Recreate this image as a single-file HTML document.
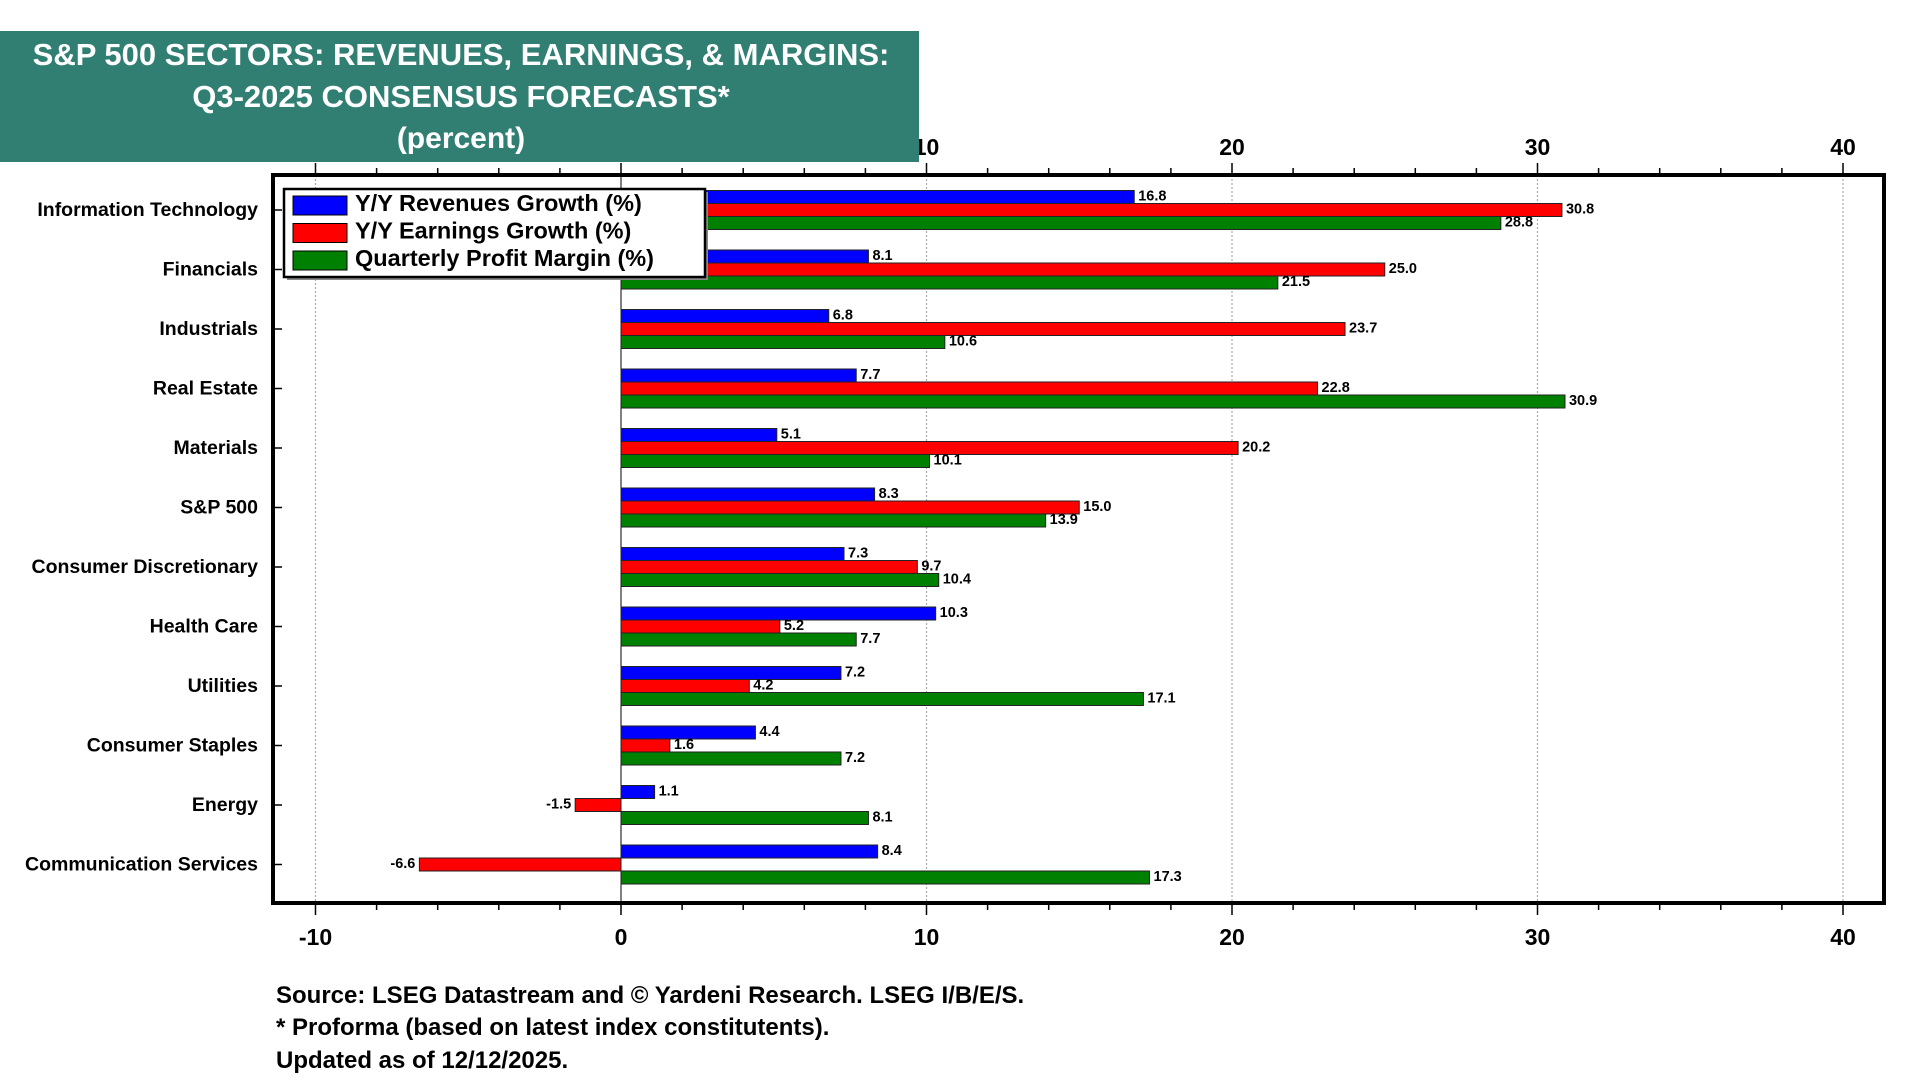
<!DOCTYPE html>
<html><head><meta charset="utf-8"><style>
html,body{margin:0;padding:0;background:#fff;}
svg{display:block;font-family:"Liberation Sans",Arial,sans-serif;font-weight:bold;}
</style></head><body>
<svg id="chart" width="1920" height="1080" viewBox="0 0 1920 1080">
  <g id="plot"></g>
  <rect x="0" y="31" width="919" height="131" fill="#317f73"/>
  <text x="461" y="65" fill="#fff" font-size="31" text-anchor="middle">S&amp;P 500 SECTORS: REVENUES, EARNINGS, &amp; MARGINS:</text>
  <text x="461" y="107" fill="#fff" font-size="31" text-anchor="middle">Q3-2025 CONSENSUS FORECASTS*</text>
  <text x="461" y="148" fill="#fff" font-size="30" text-anchor="middle">(percent)</text>
  <text x="276" y="1003" font-size="24">Source: LSEG Datastream and © Yardeni Research. LSEG I/B/E/S.</text>
  <text x="276" y="1035" font-size="24">* Proforma (based on latest index constitutents).</text>
  <text x="276" y="1068" font-size="24">Updated as of 12/12/2025.</text>
</svg>
<script>
const categories = ["Information Technology","Financials","Industrials","Real Estate","Materials","S&P 500","Consumer Discretionary","Health Care","Utilities","Consumer Staples","Energy","Communication Services"];
const revenues = [16.8,8.1,6.8,7.7,5.1,8.3,7.3,10.3,7.2,4.4,1.1,8.4];
const earnings = [30.8,25.0,23.7,22.8,20.2,15.0,9.7,5.2,4.2,1.6,-1.5,-6.6];
const margins = [28.8,21.5,10.6,30.9,10.1,13.9,10.4,7.7,17.1,7.2,8.1,17.3];
const xTicks = [-10,0,10,20,30,40];
const seriesNames = ["Y/Y Revenues Growth (%)","Y/Y Earnings Growth (%)","Quarterly Profit Margin (%)"];

const NS="http://www.w3.org/2000/svg";
const g=document.getElementById('plot');
const L=273,R=1884,T=175,B=903;
const x0=621, unit=30.55;
const X=v=>x0+v*unit;
const yTop=210, yStep=59.5;
const Y=i=>yTop+i*yStep;
const barH=13;
function mk(tag,attrs,parent){const e=document.createElementNS(NS,tag);for(const k in attrs)e.setAttribute(k,attrs[k]);(parent||g).appendChild(e);return e;}

for(let v=-10;v<=40;v+=2){
  const major=(v%10===0);
  const t1=mk('line',{x1:X(v),x2:X(v),y1:T-(major?12:7),y2:T,stroke:'#000','stroke-width':1.5});
  
  
  const t2=mk('line',{x1:X(v),x2:X(v),y1:B,y2:B+(major?12:7),stroke:'#000','stroke-width':1.5});
  
  
}
xTicks.forEach(v=>{
  if(v!==0){
    const gl=mk('line',{x1:X(v),x2:X(v),y1:T,y2:B,stroke:'#aaa','stroke-width':1.2,'stroke-dasharray':'2,2'});
    
    
  }
  const a=mk('text',{x:X(v),y:155,'font-size':23,'text-anchor':'middle'});a.textContent=v;
  
  
  const b=mk('text',{x:X(v),y:945,'font-size':23,'text-anchor':'middle'});b.textContent=v;
  
  
});
const zl=mk('line',{x1:X(0),x2:X(0),y1:T,y2:B,stroke:'#000','stroke-width':1});



const colors=['#0000ff','#ff0000','#008000'];
const data=[revenues,earnings,margins];
categories.forEach((c,i)=>{
  const cy=Y(i);
  const lab=mk('text',{x:258,y:cy+6,'font-size':19.5,'text-anchor':'end'});lab.textContent=c;
  
  
  const tk=mk('line',{x1:L,x2:L+9,y1:cy,y2:cy,stroke:'#000','stroke-width':1.5});
  
  
  data.forEach((s,k)=>{
    const v=s[i];
    const by=cy-barH*1.5+k*barH;
    const xa=Math.min(X(0),X(v)), w=Math.abs(X(v)-X(0));
    const r=mk('rect',{x:xa,y:by,width:w,height:barH,fill:colors[k],stroke:'#222','stroke-width':1});
    
    
    const t=mk('text',{x:v>=0?X(v)+4:X(v)-4,y:by+barH-3,'font-size':14.5,'text-anchor':v>=0?'start':'end'});
    t.textContent=v.toFixed(1);
    
    
  });
});
const fr=mk('rect',{x:L,y:T,width:R-L,height:B-T,fill:'none',stroke:'#000','stroke-width':4});



const lg=mk('g',{});


mk('rect',{x:287,y:192,width:421,height:88,fill:'#888'},lg);
mk('rect',{x:284,y:189,width:421,height:88,fill:'#fff',stroke:'#000','stroke-width':2.5},lg);
seriesNames.forEach((n,k)=>{
  const yy=196+k*27.5;
  const sw=mk('rect',{x:293,y:yy,width:54,height:19,fill:colors[k],stroke:'#000','stroke-width':1},lg);
  
  
  const t=mk('text',{x:355,y:yy+15,'font-size':23.5},lg);t.textContent=n;
  
  
});
</script>
</body></html>
